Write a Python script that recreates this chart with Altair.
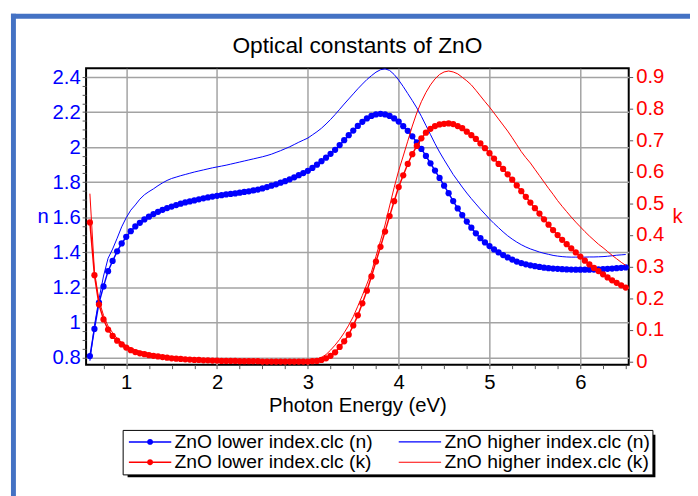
import altair as alt
import pandas as pd

# Photon energy grid (eV)
energy = [round(0.60 + 0.05 * i, 2) for i in range(119)]

n_lower = [
    0.807, 0.962, 1.112, 1.205, 1.292, 1.350, 1.405, 1.450, 1.488, 1.520,
    1.547, 1.568, 1.587, 1.603, 1.618, 1.631, 1.642, 1.652, 1.661, 1.669,
    1.677, 1.684, 1.690, 1.696, 1.702, 1.708, 1.713, 1.718, 1.722, 1.726,
    1.730, 1.733, 1.736, 1.740, 1.744, 1.748, 1.753, 1.758, 1.764, 1.772,
    1.780, 1.788, 1.797, 1.806, 1.816, 1.828, 1.840, 1.852, 1.865, 1.881,
    1.900, 1.920, 1.940, 1.962, 1.985, 2.012, 2.040, 2.068, 2.095, 2.121,
    2.145, 2.164, 2.178, 2.187, 2.190, 2.187, 2.178, 2.164, 2.146, 2.120,
    2.093, 2.062, 2.027, 1.990, 1.950, 1.908, 1.866, 1.824, 1.780, 1.737,
    1.692, 1.650, 1.612, 1.575, 1.540, 1.508, 1.480, 1.456, 1.435, 1.416,
    1.399, 1.384, 1.370, 1.358, 1.347, 1.338, 1.331, 1.325, 1.320, 1.316,
    1.312, 1.309, 1.307, 1.305, 1.303, 1.302, 1.301, 1.300, 1.300, 1.300,
    1.300, 1.301, 1.302, 1.303, 1.305, 1.307, 1.309, 1.311, 1.313,
]

n_higher = [
    0.780, 0.982, 1.132, 1.264, 1.365, 1.418, 1.480, 1.545, 1.597, 1.640,
    1.670, 1.703, 1.728, 1.746, 1.762, 1.780, 1.796, 1.810, 1.821, 1.829,
    1.837, 1.844, 1.851, 1.858, 1.864, 1.870, 1.876, 1.882, 1.887, 1.892,
    1.897, 1.903, 1.909, 1.915, 1.921, 1.927, 1.933, 1.939, 1.945, 1.952,
    1.960, 1.970, 1.980, 1.991, 2.002, 2.015, 2.028, 2.040, 2.052, 2.070,
    2.088, 2.108, 2.132, 2.158, 2.186, 2.216, 2.246, 2.275, 2.304, 2.333,
    2.360, 2.386, 2.408, 2.428, 2.442, 2.447, 2.438, 2.415, 2.383, 2.346,
    2.306, 2.266, 2.224, 2.176, 2.124, 2.072, 2.020, 1.972, 1.928, 1.886,
    1.844, 1.808, 1.772, 1.738, 1.706, 1.676, 1.646, 1.618, 1.590, 1.564,
    1.540, 1.516, 1.494, 1.475, 1.458, 1.443, 1.430, 1.419, 1.410, 1.401,
    1.394, 1.388, 1.382, 1.378, 1.375, 1.373, 1.372, 1.372, 1.372, 1.372,
    1.373, 1.373, 1.374, 1.375, 1.377, 1.380, 1.383, 1.385, 1.387,
]

k_lower = [
    0.440, 0.273, 0.180, 0.133, 0.101, 0.081, 0.066, 0.054, 0.044, 0.036,
    0.030, 0.026, 0.023, 0.020, 0.018, 0.016, 0.014, 0.012, 0.010, 0.009,
    0.008, 0.007, 0.006, 0.005, 0.005, 0.004, 0.004, 0.003, 0.003, 0.002,
    0.002, 0.002, 0.002, 0.001, 0.001, 0.001, 0.001, 0.001, 0.000, 0.000,
    0.000, 0.000, 0.000, 0.000, 0.000, 0.000, 0.000, 0.000, 0.000, 0.001,
    0.002, 0.005, 0.010, 0.018, 0.029, 0.046, 0.064, 0.085, 0.114, 0.146,
    0.184, 0.224, 0.269, 0.316, 0.363, 0.411, 0.460, 0.507, 0.552, 0.589,
    0.625, 0.656, 0.682, 0.706, 0.724, 0.736, 0.745, 0.750, 0.752, 0.753,
    0.751, 0.745, 0.738, 0.727, 0.716, 0.704, 0.690, 0.675, 0.659, 0.642,
    0.625, 0.609, 0.592, 0.575, 0.557, 0.539, 0.521, 0.503, 0.485, 0.468,
    0.450, 0.433, 0.416, 0.400, 0.385, 0.371, 0.358, 0.345, 0.332, 0.319,
    0.307, 0.296, 0.286, 0.276, 0.266, 0.257, 0.249, 0.241, 0.234,
]

k_higher = [
    0.531, 0.285, 0.193, 0.146, 0.112, 0.091, 0.073, 0.060, 0.050, 0.043,
    0.037, 0.033, 0.029, 0.026, 0.023, 0.020, 0.018, 0.016, 0.014, 0.012,
    0.011, 0.010, 0.009, 0.008, 0.007, 0.006, 0.005, 0.005, 0.004, 0.004,
    0.003, 0.003, 0.003, 0.002, 0.002, 0.002, 0.001, 0.001, 0.001, 0.001,
    0.001, 0.001, 0.001, 0.001, 0.001, 0.001, 0.001, 0.001, 0.001, 0.003,
    0.007, 0.013, 0.022, 0.036, 0.052, 0.070, 0.091, 0.115, 0.142, 0.175,
    0.209, 0.245, 0.283, 0.333, 0.382, 0.432, 0.492, 0.550, 0.604, 0.650,
    0.697, 0.745, 0.787, 0.822, 0.851, 0.875, 0.894, 0.908, 0.916, 0.919,
    0.916, 0.910, 0.899, 0.888, 0.875, 0.858, 0.840, 0.822, 0.805, 0.786,
    0.767, 0.748, 0.729, 0.708, 0.686, 0.664, 0.645, 0.628, 0.608, 0.588,
    0.568, 0.548, 0.529, 0.509, 0.491, 0.474, 0.457, 0.441, 0.426, 0.411,
    0.397, 0.384, 0.371, 0.360, 0.348, 0.336, 0.325, 0.314, 0.304,
]

# legend order (column-major fill: col 1 = lower, col 2 = higher)
series_names = [
    "ZnO lower index.clc (n)",
    "ZnO lower index.clc (k)",
    "ZnO higher index.clc (n)",
    "ZnO higher index.clc (k)",
]

x_ticks = [round(0.75 + 0.25 * i, 2) for i in range(24)]
n_ticks = [round(0.80 + 0.05 * i, 2) for i in range(33)]
k_ticks = [round(0.1 * i, 1) for i in range(10)]

FONT = "Liberation Sans"
BLUE = "#0000ff"
RED = "#ff0000"
GRID = "#a3a3a3"
FS = 20.5

n_df = pd.DataFrame({"energy": energy, "lower": n_lower, "higher": n_higher})
k_df = pd.DataFrame({"energy": energy, "lower": k_lower, "higher": k_higher})
legend_df = pd.DataFrame({"series": series_names})
deco_df = pd.DataFrame({"d": [0]})

major_x = "abs(datum.value - round(datum.value)) < 0.001"
major_n = "abs(datum.value * 5 - round(datum.value * 5)) < 0.001"

x_scale = alt.Scale(domain=[0.558, 6.533], nice=False, zero=False)
x_axis = alt.Axis(
    values=x_ticks,
    labelExpr=f"{major_x} ? format(datum.value, 'd') : ''",
    title="Photon Energy (eV)",
    grid=True, gridColor=GRID, gridWidth=1.5,
    gridOpacity={"condition": {"test": major_x, "value": 1}, "value": 0},
    domain=False, tickSize=4, tickColor="#555555", tickWidth=1,
    labelFontSize=FS, labelColor="black", labelPadding=4,
    labelOverlap=False, labelFlush=False,
    titleFontSize=FS, titleColor="black", titleFontWeight="normal",
    titlePadding=3,
)

n_scale = alt.Scale(domain=[0.758, 2.451], nice=False, zero=False)
n_axis = alt.Axis(
    orient="left", values=n_ticks,
    labelExpr=f"{major_n} ? format(datum.value, '~g') : ''",
    grid=True, gridColor=GRID, gridWidth=1.5,
    gridOpacity={"condition": {"test": major_n, "value": 1}, "value": 0},
    domain=False, tickSize=4, tickColor="#555555",
    labelFontSize=FS, labelColor=BLUE, labelPadding=2, labelOverlap=False,
    title="n", titleAngle=0, titleColor=BLUE, titleFontSize=FS,
    titleFontWeight="normal", titleX=-44, titleY=150,
    titleAlign="center", titleBaseline="middle",
)

k_scale = alt.Scale(domain=[-0.010, 0.928], nice=False, zero=False)
k_axis = alt.Axis(
    orient="right", values=k_ticks,
    labelExpr="format(datum.value, '~g')",
    grid=False, domain=False, tickSize=4, tickColor="#555555",
    labelFontSize=FS, labelColor=RED, labelPadding=3, labelOverlap=False,
    title="k", titleAngle=0, titleColor=RED, titleFontSize=FS,
    titleFontWeight="normal", titleX=49, titleY=150,
    titleAlign="center", titleBaseline="middle",
)

X = alt.X("energy:Q", scale=x_scale, axis=x_axis)

n_high_line = alt.Chart(n_df).mark_line(color=BLUE, strokeWidth=1).encode(
    x=X, y=alt.Y("higher:Q", scale=n_scale, axis=n_axis))
n_low_line = alt.Chart(n_df).mark_line(color=BLUE, strokeWidth=1.5).encode(
    x=X, y=alt.Y("lower:Q", scale=n_scale, axis=n_axis))
n_low_pts = alt.Chart(n_df).mark_circle(color=BLUE, size=40, opacity=1).encode(
    x=X, y=alt.Y("lower:Q", scale=n_scale, axis=n_axis))
n_layer = alt.layer(n_high_line, n_low_line, n_low_pts)

k_high_line = alt.Chart(k_df).mark_line(color=RED, strokeWidth=1).encode(
    x=X, y=alt.Y("higher:Q", scale=k_scale, axis=k_axis))
k_low_line = alt.Chart(k_df).mark_line(color=RED, strokeWidth=1.5).encode(
    x=X, y=alt.Y("lower:Q", scale=k_scale, axis=k_axis))
k_low_pts = alt.Chart(k_df).mark_circle(color=RED, size=40, opacity=1).encode(
    x=X, y=alt.Y("lower:Q", scale=k_scale, axis=k_axis))
k_layer = alt.layer(k_high_line, k_low_line, k_low_pts)

dot_path = ("M-4,-0.14H4V0.14H-4Z"
            "M-0.56,0A0.56,0.56,0,1,1,0.56,0A0.56,0.56,0,1,1,-0.56,0Z")
line_path = "M-4,-0.1H4V0.1H-4Z"

leg = alt.Legend(
    title=None, orient="none", legendX=37, legendY=366, columns=2,
    columnPadding=22, rowPadding=0, padding=2,
    strokeColor="black", fillColor="white",
    labelFontSize=19.5, labelColor="black", labelFont=FONT, labelLimit=400,
    symbolSize=115, symbolOffset=16, labelOffset=15, symbolStrokeWidth=0,
)
legend_layer = alt.Chart(legend_df).transform_filter("false").mark_point(
    filled=True, size=115, opacity=1
).encode(
    color=alt.Color("series:N", scale=alt.Scale(domain=series_names,
                    range=[BLUE, RED, BLUE, RED]), legend=leg),
    shape=alt.Shape("series:N", scale=alt.Scale(domain=series_names,
                    range=[dot_path, dot_path, line_path, line_path]), legend=leg),
)

# decorations: page frame and legend drop shadow
frame_top = alt.Chart(deco_df).mark_rect(color="#4472c4").encode(
    x=alt.value(-76), x2=alt.value(640), y=alt.value(-55), y2=alt.value(-50))
frame_left = alt.Chart(deco_df).mark_rect(color="#4472c4").encode(
    x=alt.value(-76), x2=alt.value(-71), y=alt.value(-55), y2=alt.value(440))
legend_shadow = alt.Chart(deco_df).mark_rect(color="black").encode(
    x=alt.value(42), x2=alt.value(576), y=alt.value(371), y2=alt.value(414))

chart = alt.layer(
    n_layer, k_layer, legend_layer, frame_top, frame_left, legend_shadow
).resolve_scale(y="independent").properties(
    width=549, height=300,
    padding={"left": 79, "top": 58, "right": 62, "bottom": 130},
    autosize=alt.AutoSizeParams(type="none"),
    title=alt.TitleParams("Optical constants of ZnO", fontSize=23, font=FONT,
                          fontWeight="normal", color="black",
                          anchor="middle", frame="group", offset=10, dy=55),
).configure_view(stroke="black", strokeWidth=2).configure_axis(
    labelFont=FONT, titleFont=FONT)

chart.save("out.html", embed_options={"renderer": "svg", "actions": False})
